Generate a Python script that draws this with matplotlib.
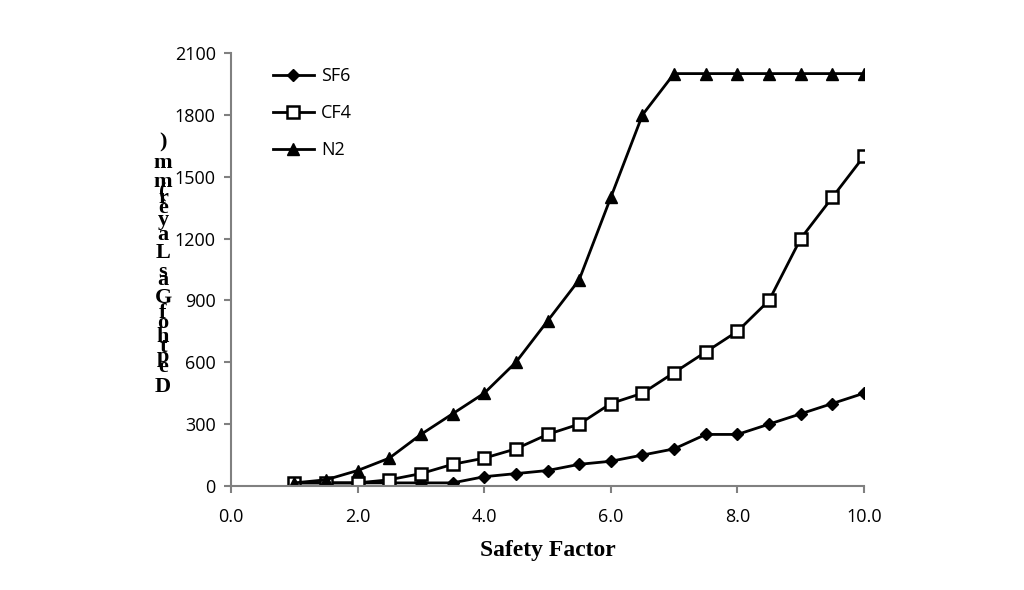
import numpy as np
import matplotlib
matplotlib.use("Agg")
import matplotlib.pyplot as plt

safety_factor = [1.0, 1.5, 2.0, 2.5, 3.0, 3.5, 4.0, 4.5, 5.0, 5.5,
                 6.0, 6.5, 7.0, 7.5, 8.0, 8.5, 9.0, 9.5, 10.0]
sf6 = [15, 15, 15, 15, 15, 15, 45, 60, 75, 105,
       120, 150, 180, 250, 250, 300, 350, 400, 450]
cf4 = [15, 15, 15, 30, 60, 105, 135, 180, 250, 300,
       400, 450, 550, 650, 750, 900, 1200, 1400, 1600]
n2 = [15, 30, 75, 135, 250, 350, 450, 600, 800, 1000,
      1400, 1800, 2000, 2000, 2000, 2000, 2000, 2000, 2000]

ylabel = "Depth of Gas Layer (mm)"
xlabel = "Safety Factor"

tick_font = "Open Sans"
label_font = "Liberation Serif"

fig = plt.figure(figsize=(10.24, 5.9), dpi=100)
ax = fig.add_axes([0.2256, 0.1763, 0.8438 - 0.2256, 0.9102 - 0.1763])

ax.plot(safety_factor, sf6, color="black", lw=2, marker="D", ms=6.5, label="SF6")
ax.plot(safety_factor, cf4, color="black", lw=2, marker="s", ms=9,
        mfc="white", mec="black", mew=1.8, label="CF4")
ax.plot(safety_factor, n2, color="black", lw=2, marker="^", ms=8, label="N2")

ax.set_xlim(0, 10)
ax.set_ylim(0, 2100)
ax.set_xticks(np.arange(0, 10.1, 2.0))
ax.set_xticklabels([f"{v:.1f}" for v in np.arange(0, 10.1, 2.0)])
ax.set_yticks(range(0, 2101, 300))

for s in ["top", "right"]:
    ax.spines[s].set_visible(False)
for s in ["left", "bottom"]:
    ax.spines[s].set_color("#808080")
    ax.spines[s].set_linewidth(1.5)
ax.tick_params(colors="#808080", length=5, width=1.5, labelcolor="black",
               labelsize=13)
ax.tick_params(axis="x", pad=11)
ax.tick_params(axis="y", pad=6)
for lab in ax.get_xticklabels() + ax.get_yticklabels():
    lab.set_fontfamily(tick_font)

ax.set_xlabel(xlabel, fontfamily=label_font, fontweight="bold", fontsize=17,
              labelpad=10)

leg = ax.legend(loc="upper left", bbox_to_anchor=(0.04, 1.005), frameon=False,
                prop={"family": tick_font, "size": 13}, handlelength=2.3,
                labelspacing=1.05, handletextpad=0.4)

# stacked (unrotated) characters of the y label, bottom to top
chars = [c for c in ylabel if c != " "]
ypix = [387, 367, 357, 347, 337, 323, 313, 298, 280, 272,
        253, 235, 220, 208, 198, 192, 182, 163, 142]
for c, yp in zip(chars, ypix):
    fig.text(163 / 1024, 1 - yp / 590, c, ha="center", va="center",
             fontfamily=label_font, fontweight="bold", fontsize=16)

fig.savefig("out.png", dpi=100)
